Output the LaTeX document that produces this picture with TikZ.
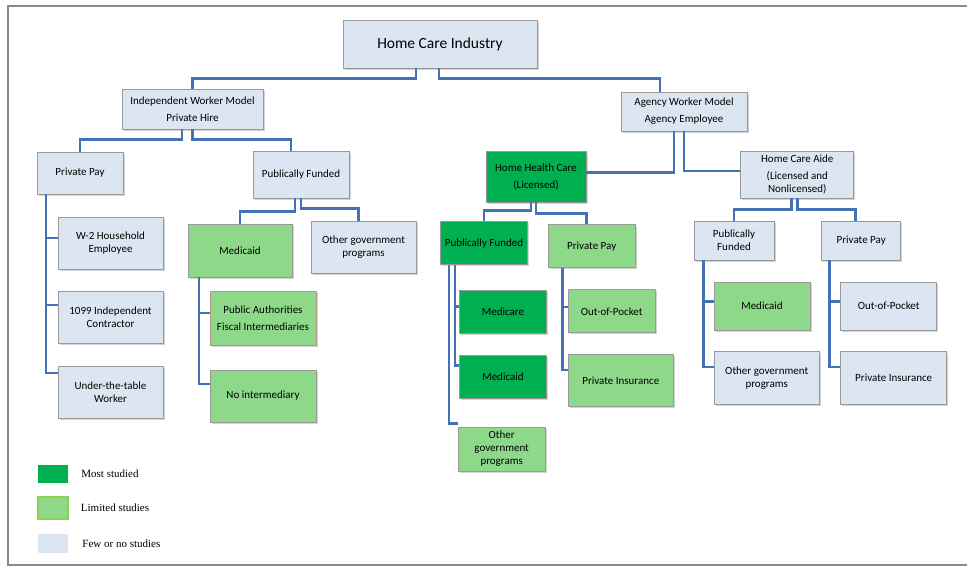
\documentclass[tikz,border=0pt]{standalone}
\usepackage{fontspec}
\setmainfont{Carlito}
\newfontfamily\keyfont{Liberation Serif}
\usetikzlibrary{positioning, shadows}

\definecolor{fewfill}{HTML}{DCE6F2}
\definecolor{mostfill}{HTML}{00B050}
\definecolor{limitfill}{HTML}{8ED88A}
\definecolor{limitedge}{HTML}{92D050}
\definecolor{tanedge}{HTML}{B49A7C}
\definecolor{linkblue}{HTML}{4472B4}
\definecolor{framegray}{HTML}{8A8A8A}

\begin{document}
\begin{tikzpicture}[x=1pt, y=-1pt,
    dims/.style 2 args={minimum width=#1pt, minimum height=#2pt},
    box/.style={rectangle, draw=black!40, line width=0.8pt, align=center, inner sep=1pt, font=\fontsize{11}{13}\selectfont, drop shadow={shadow xshift=1.5pt, shadow yshift=-1.5pt, opacity=0.35}},
    fewbox/.style={box, fill=fewfill},
    mostbox/.style={box, fill=mostfill},
    limitbox/.style={box, fill=limitfill},
    link/.style={draw=linkblue, line width=2.6pt},
    keybox/.style={rectangle, inner sep=0pt},
    keytext/.style={inner sep=0pt, font=\keyfont\fontsize{11}{13}\selectfont}
]
    \useasboundingbox (0,0) rectangle (967,566);
    \draw [framegray, line width=1.6pt] (967,6) -- (8,6) -- (8,565) -- (967,565);

    % top levels
    \node [fewbox, dims={194}{48}, font=\fontsize{15.5}{18}\selectfont] (hci) at (440,44) {Home Care Industry};
    \node [fewbox, dims={141}{40}] (indep) at (192.5,109) {Independent Worker Model\\[4pt]Private Hire};
    \node [fewbox, dims={126}{39}] (agency) at (684,111.5) {Agency Worker Model\\[4pt]Agency Employee};

    % independent worker side
    \node [fewbox, dims={86}{42}] (ipp) at (80,173) {Private Pay};
    \node [fewbox, dims={96}{47}] (ipf) at (301,174.5) {Publically Funded};
    \node [fewbox, dims={105}{52}] (iw2) at (110.5,243) {W-2 Household\\Employee};
    \node [fewbox, dims={105}{52}] (i1099) at (110.5,317) {1099 Independent\\Contractor};
    \node [fewbox, dims={105}{52}] (iutt) at (110.5,392) {Under-the-table\\Worker};
    \node [limitbox, dims={104}{53}] (imed) at (240,250.5) {Medicaid};
    \node [fewbox, dims={105}{52}] (iog) at (363.5,247) {Other government\\programs};
    \node [limitbox, draw=tanedge, dims={106}{54}] (ipafi) at (263,318) {Public Authorities\\[4pt]Fiscal Intermediaries};
    \node [limitbox, dims={106}{52}] (inoint) at (263,396) {No intermediary};

    % agency worker side
    \node [mostbox, dims={100}{51}] (hhc) at (536,176.5) {Home Health Care\\[4pt](Licensed)};
    \node [fewbox, dims={113}{47}] (hca) at (797.3,174.5) {Home Care Aide\\[4pt](Licensed and\\Nonlicensed)};
    \node [mostbox, dims={87}{43}] (hpf) at (484,243.3) {Publically Funded};
    \node [limitbox, dims={87}{43}] (hpp) at (591.7,246.3) {Private Pay};
    \node [mostbox, dims={87}{43}] (hmcare) at (503,311.7) {Medicare};
    \node [mostbox, dims={87}{43}] (hmcaid) at (503,376.7) {Medicaid};
    \node [limitbox, dims={87}{44}] (hog) at (501.7,449) {Other\\government\\programs};
    \node [limitbox, dims={87}{43}] (hoop) at (611.7,311.3) {Out-of-Pocket};
    \node [limitbox, dims={105}{52}] (hpi) at (620.8,380.8) {Private Insurance};
    \node [fewbox, dims={80}{39}] (cpf) at (734,240.5) {Publically\\Funded};
    \node [fewbox, dims={79}{39}] (cpp) at (861.2,240.5) {Private Pay};
    \node [limitbox, dims={96}{48}] (cmed) at (762,306.2) {Medicaid};
    \node [fewbox, dims={105}{53}] (cog) at (766.7,378) {Other government\\programs};
    \node [fewbox, dims={96}{48}] (coop) at (888.7,306.2) {Out-of-Pocket};
    \node [fewbox, dims={106}{53}] (cpi) at (893.7,378) {Private Insurance};

    % connectors
    \draw [link] ([xshift=-24pt]hci.south) -- ++(0,10) -| (indep.north);
    \draw [link] ([xshift=-1pt]hci.south) -- ++(0,10) -| ([xshift=-24pt]agency.north);
    \draw [link] ([xshift=-10.5pt]indep.south) -- ++(0,10) -| (ipp.north);
    \draw [link] (indep.south) -- ++(0,10) -| ([xshift=-10pt]ipf.north);
    \draw [link] ([xshift=-34pt]ipp.south) |- ([yshift=5pt]iw2.west);
    \draw [link] ([xshift=-34pt]ipp.south) |- ([yshift=12pt]i1099.west);
    \draw [link] ([xshift=-34pt]ipp.south) |- ([yshift=19pt]iutt.west);
    \draw [link] ([xshift=-6pt]ipf.south) -- ++(0,13) -| (imed.north);
    \draw [link] (ipf.south) -- ++(0,10) -| ([xshift=-5pt]iog.north);
    \draw [link] ([xshift=-41pt]imed.south) |- ([yshift=5pt]ipafi.west);
    \draw [link] ([xshift=-41pt]imed.south) |- ([yshift=12pt]inoint.west);

    \draw [link] ([xshift=-10pt]agency.south) |- ([yshift=4pt]hhc.east);
    \draw [link] (agency.south) |- ([yshift=3.5pt]hca.west);
    \draw [link] ([xshift=-5pt]hhc.south) -- ++(0,8) -| (hpf.north);
    \draw [link] (hhc.south) -- ++(0,11) -| ([xshift=-5pt]hpp.north);
    \draw [link] ([xshift=-29pt]hpf.south) |- ([yshift=5pt]hmcare.west);
    \draw [link] ([xshift=-29pt]hpf.south) |- ([yshift=11pt]hmcaid.west);
    \draw [link] ([xshift=-35pt]hpf.south) |- ([yshift=3pt]hog.north west);
    \draw [link] ([xshift=-29pt]hpp.south) |- ([yshift=4.5pt]hoop.west);
    \draw [link] ([xshift=-29pt]hpp.south) |- ([yshift=11pt]hpi.west);
    \draw [link] ([xshift=-5.6pt]hca.south) -- ++(0,11) -| (cpf.north);
    \draw [link] (hca.south) -- ++(0,11) -| ([xshift=-6pt]cpp.north);
    \draw [link] ([xshift=-30.7pt]cpf.south) |- ([yshift=4.5pt]cmed.west);
    \draw [link] ([xshift=-30.7pt]cpf.south) |- ([yshift=11pt]cog.west);
    \draw [link] ([xshift=-32pt]cpp.south) |- ([yshift=4.5pt]coop.west);
    \draw [link] ([xshift=-32pt]cpp.south) |- ([yshift=11pt]cpi.west);

    % key
    \node [keybox, fill=mostfill, dims={30}{18}] (kmost) at (53,474) {};
    \node [keybox, fill=limitfill, draw=limitedge, line width=1.5pt, dims={30}{22}] (klimit) at (53,508) {};
    \node [keybox, fill=fewfill, dims={30}{19}] (kfew) at (53,543.5) {};
    \node [keytext, right=13pt of kmost] (kmosttext) {Most studied};
    \node [keytext, right=12pt of klimit] (klimittext) {Limited studies};
    \node [keytext, right=14pt of kfew] (kfewtext) {Few or no studies};
\end{tikzpicture}
\end{document}
